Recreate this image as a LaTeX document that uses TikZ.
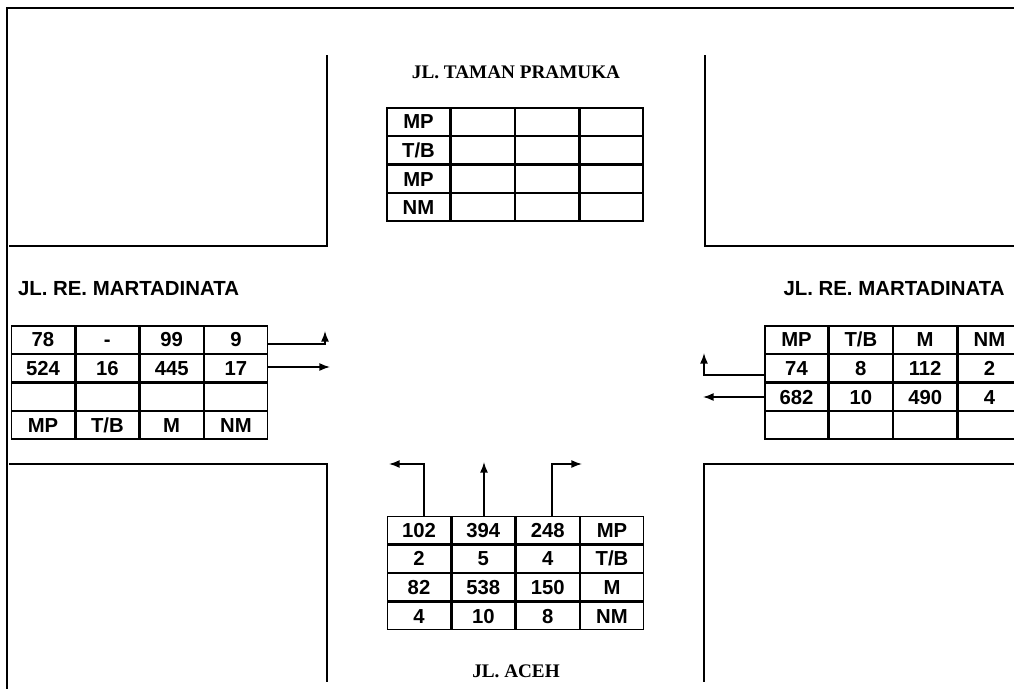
\documentclass[tikz,border=0pt]{standalone}
\usepackage{fontspec}
\setmainfont{Liberation Serif}
\setsansfont{Liberation Sans}
\usetikzlibrary{matrix,arrows.meta}
\tikzset{
  road/.style={line width=1.2pt},
  frameline/.style={line width=2.2pt},
  arr/.style={line width=1.1pt,-{Latex[length=8pt,width=6pt]}},
  tbl/.style={matrix of nodes, nodes in empty cells, column sep=0pt, row sep=0pt, inner sep=0pt,
    nodes={draw, line width=1pt, outer sep=0pt, inner sep=0pt, minimum width=47.25pt, minimum height=20.45pt,
      text height=10.9pt, text depth=0pt,
      anchor=center, font=\sffamily\bfseries\fontsize{15.2pt}{15.2pt}\selectfont}},
  serifttl/.style={font=\rmfamily\bfseries\fontsize{14.4pt}{14.4pt}\selectfont, inner sep=0pt},
  sansttl/.style={font=\sffamily\bfseries\fontsize{15.3pt}{15.3pt}\selectfont, inner sep=0pt}
}
\begin{document}
\begin{tikzpicture}[x=0.75pt,y=-0.75pt]
\useasboundingbox (0,0) rectangle (1014,689);
% frame
\draw[frameline] (7,689) -- (7,8) -- (1014,8);
% road edges
\draw[road] (9,246) -- (327,246) -- (327,55);
\draw[road] (705,55) -- (705,246) -- (1014,246);
\draw[road] (9,464) -- (327,464) -- (327,682);
\draw[road] (1014,464) -- (704,464) -- (704,682);
% titles
\node[serifttl] (tn) at (516,72) {JL. TAMAN PRAMUKA};
\node[serifttl] (ts) at (516,671) {JL. ACEH};
\node[sansttl] (tw) at (128.5,289) {JL. RE. MARTADINATA};
\node[sansttl] (te) at (894,289) {JL. RE. MARTADINATA};
% tables
\matrix[tbl] (T) at (515,164.5) {
MP & & & \\
T/B & & & \\
MP & & & \\
NM & & & \\
};
\matrix[tbl] (L) at (139.5,382.5) {
78 & - & 99 & 9 \\
524 & 16 & 445 & 17 \\
 & & & \\
MP & T/B & M & NM \\
};
\matrix[tbl] (R) at (893,382.5) {
MP & T/B & M & NM \\
74 & 8 & 112 & 2 \\
682 & 10 & 490 & 4 \\
 & & & \\
};
\matrix[tbl] (B) at (515.5,573) {
102 & 394 & 248 & MP \\
2 & 5 & 4 & T/B \\
82 & 538 & 150 & M \\
4 & 10 & 8 & NM \\
};
% arrow coordinates
\coordinate (la1) at (325,344);
\coordinate (la1t) at (325,331);
\coordinate (la2) at (330,367);
\coordinate (ra1) at (704,375);
\coordinate (ra1t) at (704,353);
\coordinate (ra2) at (703,397);
\coordinate (ba1) at (424,464);
\coordinate (ba1t) at (389,464);
\coordinate (bt2) at (484,462);
\coordinate (ba3) at (552,464);
\coordinate (ba3t) at (582,464);
% arrows
\draw[arr] (L-1-4.east |- la1) -- (la1) -- (la1t);
\draw[arr] (L-2-4.east |- la2) -- (la2);
\draw[arr] (R-2-1.west |- ra1) -- (ra1) -- (ra1t);
\draw[arr] (R-3-1.west |- ra2) -- (ra2);
\draw[arr] (B-1-1.north -| ba1) -- (ba1) -- (ba1t);
\draw[arr] (B-1-2.north -| bt2) -- (bt2);
\draw[arr] (B-1-3.north -| ba3) -- (ba3) -- (ba3t);
\end{tikzpicture}
\end{document}
